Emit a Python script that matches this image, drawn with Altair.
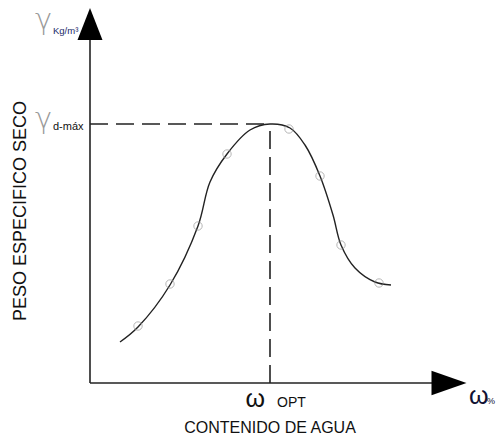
import altair as alt
import pandas as pd

# ---- data (water content %, dry unit weight in arbitrary units) ----
curve_x = [3.0, 4.8, 8.0, 10.8, 12.0, 13.7, 16.0, 18.0, 20.0, 21.5, 23.0, 24.3, 25.1, 26.5, 28.5, 30.1]
curve_y = [4.1, 5.6, 9.8, 15.7, 20.1, 22.9, 25.3, 25.9, 25.5, 23.8, 20.7, 16.8, 13.8, 11.5, 10.1, 9.8]
pt_x = [4.8, 8.0, 10.8, 13.7, 19.9, 23.0, 25.1, 28.9]
pt_y = [5.7, 9.9, 15.7, 22.9, 25.4, 20.7, 13.8, 10.0]
OPT_X = 18.0
DMAX_Y = 25.9
AXIS_END = 34.3      # where the axis lines meet the arrow heads
ARROW_C = 35.9       # centre of the arrow heads

W, H = 488, 428
xs = alt.Scale(domain=[-8.2, 40.6], zero=False, nice=False)
ys = alt.Scale(domain=[-5.3, 37.5], zero=False, nice=False)

def X(f="x"):
    return alt.X(f"{f}:Q", scale=xs, axis=None)

def Y(f="y"):
    return alt.Y(f"{f}:Q", scale=ys, axis=None)

curve = alt.Chart(pd.DataFrame({"x": curve_x, "y": curve_y})).mark_line(
    interpolate="catmull-rom", color="#222222", strokeWidth=1.4
).encode(x=X(), y=Y())

pts = alt.Chart(pd.DataFrame({"x": pt_x, "y": pt_y})).mark_point(
    shape="circle", size=70, color="#999999", strokeWidth=1, filled=False
).encode(x=X(), y=Y())

axes_df = pd.DataFrame({
    "x": [0, 0], "x2": [AXIS_END, 0], "y": [0, 0], "y2": [0, AXIS_END]
})
axes = alt.Chart(axes_df).mark_rule(color="#222222", strokeWidth=1.6).encode(
    x=X(), x2="x2:Q", y=Y(), y2="y2:Q"
)

dash_df = pd.DataFrame({
    "x": [0, OPT_X], "x2": [OPT_X, OPT_X], "y": [DMAX_Y, 0], "y2": [DMAX_Y, DMAX_Y]
})
dashes = alt.Chart(dash_df).mark_rule(
    color="#222222", strokeWidth=1.6, strokeDash=[18, 8]
).encode(x=X(), x2="x2:Q", y=Y(), y2="y2:Q")

arrow_up = alt.Chart(pd.DataFrame({"x": [0], "y": [ARROW_C]})).mark_point(
    shape="M0,-1L0.78,1L-0.78,1Z", size=1024, filled=True, color="#000000", opacity=1
).encode(x=X(), y=Y())

arrow_right = alt.Chart(pd.DataFrame({"x": [ARROW_C], "y": [0]})).mark_point(
    shape="M1,0L-1,0.7L-1,-0.7Z", size=1225, filled=True, color="#000000", opacity=1
).encode(x=X(), y=Y())

FONT = "Liberation Sans"

opt_w = alt.Chart(pd.DataFrame({"x": [OPT_X], "t": ["ω"]})).mark_text(
    font=FONT, fontSize=25, align="right", baseline="alphabetic", dx=-5, color="#111111"
).encode(x=X(), y=alt.value(399), text="t:N")
opt_t = alt.Chart(pd.DataFrame({"x": [OPT_X], "t": ["OPT"]})).mark_text(
    font=FONT, fontSize=14, align="left", baseline="alphabetic", dx=7, color="#111111"
).encode(x=X(), y=alt.value(399), text="t:N")

wpct = alt.Chart(pd.DataFrame({"t": ["ω"]})).mark_text(
    font=FONT, fontSize=25, align="left", baseline="alphabetic", color="#111133"
).encode(x=alt.value(461), y=alt.value(396), text="t:N")
pct = alt.Chart(pd.DataFrame({"t": ["%"]})).mark_text(
    font=FONT, fontSize=9, align="left", baseline="alphabetic", color="#111133"
).encode(x=alt.value(479), y=alt.value(396), text="t:N")

xtitle = alt.Chart(pd.DataFrame({"t": ["CONTENIDO DE AGUA"]})).mark_text(
    font=FONT, fontSize=16, align="center", baseline="alphabetic", color="#111111"
).encode(x=alt.value(262), y=alt.value(425), text="t:N")

ytitle = alt.Chart(pd.DataFrame({"t": ["PESO ESPECIFICO SECO"]})).mark_text(
    font=FONT, fontSize=18, align="center", baseline="middle", angle=270, color="#111111"
).encode(x=alt.value(13), y=alt.value(203), text="t:N")

gam1 = alt.Chart(pd.DataFrame({"t": ["γ"]})).mark_text(
    font="DejaVu Sans", fontSize=29, fontWeight=200, align="left", baseline="alphabetic", color="#999999"
).encode(x=alt.value(27), y=alt.value(21), text="t:N")
kg = alt.Chart(pd.DataFrame({"t": ["Kg/m³"]})).mark_text(
    font=FONT, fontSize=9.5, align="left", baseline="alphabetic", color="#1a2a6a"
).encode(x=alt.value(45), y=alt.value(26), text="t:N")

gam2 = alt.Chart(pd.DataFrame({"y": [DMAX_Y], "t": ["γ"]})).mark_text(
    font="DejaVu Sans", fontSize=29, fontWeight=200, align="left", baseline="alphabetic", dy=4, color="#999999"
).encode(x=alt.value(27), y=Y(), text="t:N")
dmax = alt.Chart(pd.DataFrame({"y": [DMAX_Y], "t": ["d-máx"]})).mark_text(
    font=FONT, fontSize=11, align="left", baseline="alphabetic", dy=6, color="#111111"
).encode(x=alt.value(45), y=Y(), text="t:N")

chart = alt.layer(
    dashes, axes, curve, pts, arrow_up, arrow_right,
    opt_w, opt_t, wpct, pct, xtitle, ytitle, gam1, kg, gam2, dmax
).properties(
    width=W, height=H, padding=0, autosize=alt.AutoSizeParams(type="none")
).configure_view(stroke=None)

chart.save("out.html", embed_options={"renderer": "svg", "actions": False})
